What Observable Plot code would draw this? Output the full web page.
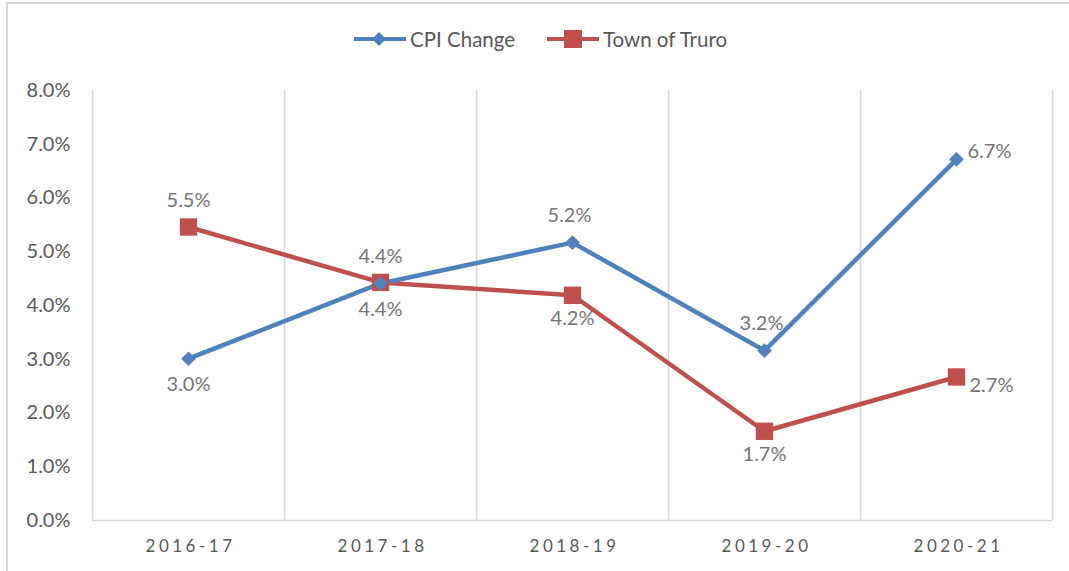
<!DOCTYPE html>
<html>
<head>
<meta charset="utf-8">
<script src="https://cdn.jsdelivr.net/npm/d3@7"></script>
<script src="https://cdn.jsdelivr.net/npm/@observablehq/plot@0.6"></script>
<style>
  html, body { margin: 0; padding: 0; background: #fff; }
  #wrap { position: relative; width: 1069px; height: 571px; overflow: hidden; font-family: Lato, "Open Sans", sans-serif; }
  #frame { position: absolute; left: 6px; top: 2px; right: -10px; bottom: -10px; border-top: 2px solid #d9d9d9; border-left: 2px solid #d9d9d9; }
  #legend { position: absolute; left: 0; top: 0; width: 1069px; height: 70px; }
  #chart { position: absolute; left: 0; top: 70px; }
  #legend .item { position: absolute; top: 27px; display: flex; align-items: center; font-size: 20.5px; color: #595959; }
  #legend svg { margin-right: 3px; }
</style>
</head>
<body>
<div id="wrap">
  <div id="frame"></div>
  <div id="legend"></div>
  <div id="chart"></div>
</div>
<script>
const categories = ["2016-17", "2017-18", "2018-19", "2019-20", "2020-21"];
const cpiChange = [0.0301, 0.0441, 0.0517, 0.0316, 0.0672];
const townOfTruro = [0.0546, 0.0443, 0.0419, 0.0166, 0.0267];
const cpiLabelPos = ["below", "below", "above", "above", "right"];
const truroLabelPos = ["above", "above", "below", "below", "right"];
const yTicks = [0, 0.01, 0.02, 0.03, 0.04, 0.05, 0.06, 0.07, 0.08];
const seriesNames = ["CPI Change", "Town of Truro"];

const blue = "#4f81bd";
const red = "#c0504d";

const cpiData = categories.map((c, i) => ({i, category: c, value: cpiChange[i], pos: cpiLabelPos[i]}));
const truroData = categories.map((c, i) => ({i, category: c, value: townOfTruro[i], pos: truroLabelPos[i]}));
const bounds = d3.range(categories.length + 1).map(k => k - 0.5);

const fmt = d3.format(".1%");
const labelStyle = {fontSize: 20, fill: "#767676", fontFamily: "Lato, 'Open Sans', sans-serif"};

const chart = Plot.plot({
  width: 1069,
  height: 501,
  marginTop: 20,
  marginBottom: 51,
  marginLeft: 92,
  marginRight: 17,
  style: {fontFamily: "Lato, 'Open Sans', sans-serif", fontSize: "19px", color: "#595959", background: "transparent"},
  x: {domain: [-0.5, categories.length - 0.5], axis: null},
  y: {domain: [0, 0.08], axis: null},
  marks: [
    Plot.ruleX(bounds, {x: d => d, stroke: "#d9d9d9", strokeWidth: 1.5}),
    Plot.ruleY([0], {stroke: "#d9d9d9", strokeWidth: 1.5}),
    Plot.axisY(yTicks, {tickSize: 0, tickPadding: 22, tickFormat: fmt, fontSize: 20, fill: "#595959", label: null}),
    Plot.axisX(d3.range(categories.length), {tickSize: 0, tickPadding: 19, tickFormat: i => categories[i], fontSize: 17, fill: "#595959", label: null, dx: 2}),
    Plot.line(truroData, {x: "i", y: "value", stroke: red, strokeWidth: 4.5}),
    Plot.line(cpiData, {x: "i", y: "value", stroke: blue, strokeWidth: 4.5}),
    Plot.dot(truroData, {x: "i", y: "value", symbol: "square", r: 9.8, fill: red, stroke: "none"}),
    Plot.dot(cpiData, {x: "i", y: "value", symbol: "diamond2", r: 6.6, fill: blue, stroke: "none"}),
    // CPI labels
    Plot.text(cpiData.filter(d => d.pos === "below"), {x: "i", y: "value", text: d => fmt(d.value), dy: 26, ...labelStyle}),
    Plot.text(cpiData.filter(d => d.pos === "above"), {x: "i", y: "value", text: d => fmt(d.value), dy: -27, dx: -3, ...labelStyle}),
    Plot.text(cpiData.filter(d => d.pos === "right"), {x: "i", y: "value", text: d => fmt(d.value), dx: 11, dy: -8, textAnchor: "start", ...labelStyle}),
    // Truro labels
    Plot.text(truroData.filter(d => d.pos === "above"), {x: "i", y: "value", text: d => fmt(d.value), dy: -26, ...labelStyle}),
    Plot.text(truroData.filter(d => d.pos === "below"), {x: "i", y: "value", text: d => fmt(d.value), dy: 23, ...labelStyle}),
    Plot.text(truroData.filter(d => d.pos === "right"), {x: "i", y: "value", text: d => fmt(d.value), dx: 13, dy: 9, textAnchor: "start", ...labelStyle})
  ]
});
d3.select(chart).selectAll("text").filter(function() { return categories.includes(this.textContent); }).style("letter-spacing", "3.5px");
document.getElementById("chart").appendChild(chart);

// Legend
const legend = document.getElementById("legend");
const items = [
  {name: seriesNames[0], color: blue, shape: "diamond", left: 353},
  {name: seriesNames[1], color: red, shape: "square", left: 546}
];
for (const it of items) {
  const div = document.createElement("div");
  div.className = "item";
  div.style.left = it.left + "px";
  const marker = it.shape === "diamond"
    ? `<path d="M26 4 L33 11 L26 18 L19 11 Z" fill="${it.color}"/>`
    : `<rect x="18" y="2" width="18" height="18" fill="${it.color}"/>`;
  div.innerHTML = `<svg width="54" height="22"><line x1="1" y1="11" x2="53" y2="11" stroke="${it.color}" stroke-width="4"/>${marker}</svg><span>${it.name}</span>`;
  legend.appendChild(div);
}
</script>
</body>
</html>
